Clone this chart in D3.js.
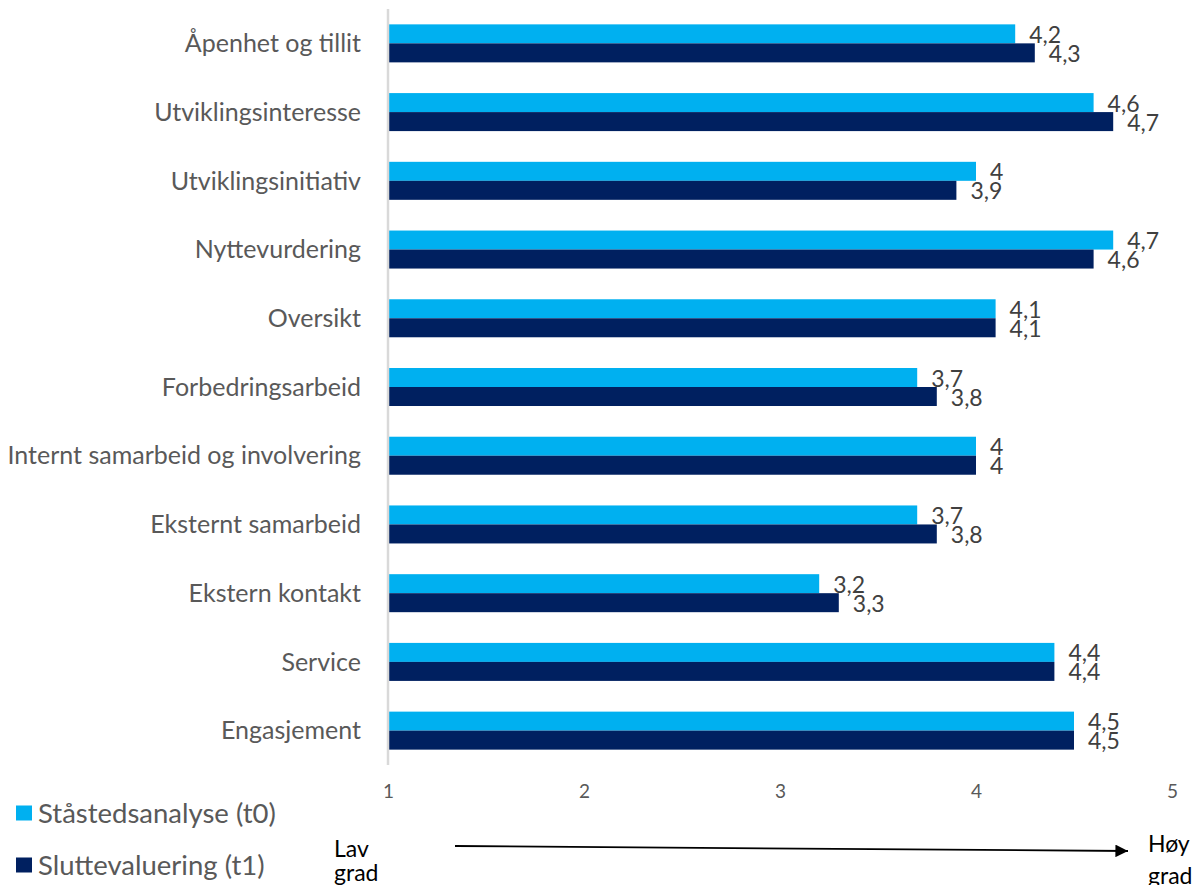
<!DOCTYPE html>
<html>
<head>
<meta charset="utf-8">
<script src="https://cdn.jsdelivr.net/npm/d3@7"></script>
<style>
  html, body { margin: 0; padding: 0; background: #fff; }
  svg { display: block; font-family: Lato, "Open Sans", sans-serif; }
</style>
</head>
<body>
<svg id="chart" width="1201" height="885"></svg>
<script>
// Dimensions scored from 1 (low) to 5 (high)
const categories = [
  "Åpenhet og tillit",
  "Utviklingsinteresse",
  "Utviklingsinitiativ",
  "Nyttevurdering",
  "Oversikt",
  "Forbedringsarbeid",
  "Internt samarbeid og involvering",
  "Eksternt samarbeid",
  "Ekstern kontakt",
  "Service",
  "Engasjement"
];
const seriesNames = ["Ståstedsanalyse (t0)", "Sluttevaluering (t1)"];
const t0Values = [4.2, 4.6, 4.0, 4.7, 4.1, 3.7, 4.0, 3.7, 3.2, 4.4, 4.5];
const t1Values = [4.3, 4.7, 3.9, 4.6, 4.1, 3.8, 4.0, 3.8, 3.3, 4.4, 4.5];
const xTicks = [1, 2, 3, 4, 5];
const colors = ["#00B0F0", "#002060"];

const svg = d3.select("#chart");

const x = d3.scaleLinear().domain([1, 5]).range([388, 1172]);
const y = d3.scaleBand().domain(categories).range([9, 765]).paddingInner(0.447).paddingOuter(0.2235);
const sub = d3.scaleBand().domain([0, 1]).range([0, y.bandwidth()]);

const fmt = v => d3.format(".2~f")(v).replace(".", ",");

const rows = categories.map((c, i) => ({ c, vals: [t0Values[i], t1Values[i]] }));

// Bars
const g = svg.append("g");
const row = g.selectAll("g.row").data(rows).join("g")
  .attr("class", "row")
  .attr("transform", d => `translate(0,${y(d.c)})`);

row.selectAll("rect").data(d => d.vals.map((v, k) => ({ v, k }))).join("rect")
  .attr("x", x(1))
  .attr("y", d => sub(d.k))
  .attr("width", d => x(d.v) - x(1))
  .attr("height", sub.bandwidth())
  .attr("fill", d => colors[d.k]);

// Value labels
row.selectAll("text.val").data(d => d.vals.map((v, k) => ({ v, k }))).join("text")
  .attr("class", "val")
  .attr("x", d => x(d.v) + 14)
  .attr("y", d => sub(d.k) + sub.bandwidth() / 2 + 1)
  .attr("dy", "0.35em")
  .attr("font-size", 23)
  .attr("fill", "#404040")
  .text(d => fmt(d.v));

// Category axis (vertical line at x = 1)
svg.append("line")
  .attr("x1", x(1)).attr("x2", x(1))
  .attr("y1", y.range()[0]).attr("y2", y.range()[1])
  .attr("stroke", "#d9d9d9").attr("stroke-width", 2.5);

svg.append("g").selectAll("text").data(categories).join("text")
  .attr("x", 361)
  .attr("y", d => y(d) + y.bandwidth() / 2)
  .attr("dy", "0.35em")
  .attr("text-anchor", "end")
  .attr("font-size", 25)
  .attr("fill", "#595959")
  .text(d => d);

// Value axis tick labels
const xAxis = svg.append("g")
  .attr("transform", "translate(0,784)")
  .call(d3.axisBottom(x).tickValues(xTicks).tickSize(0).tickPadding(0).tickFormat(d3.format("d")));
xAxis.select(".domain").remove();
xAxis.selectAll("text")
  .attr("font-family", "Lato, 'Open Sans', sans-serif")
  .attr("font-size", 19)
  .attr("fill", "#595959");

// Legend
const legend = svg.append("g");
const legendY = [813, 865];
seriesNames.forEach((name, i) => {
  legend.append("rect")
    .attr("x", 16).attr("y", legendY[i] - 7.5)
    .attr("width", 16).attr("height", 15)
    .attr("fill", colors[i]);
  legend.append("text")
    .attr("x", 38).attr("y", legendY[i])
    .attr("dy", "0.35em")
    .attr("font-size", 27.5)
    .attr("fill", "#595959")
    .text(name);
});

// Low-to-high arrow
svg.append("defs").append("marker")
  .attr("id", "arrowhead")
  .attr("viewBox", "0 0 10 10")
  .attr("refX", 10).attr("refY", 5)
  .attr("markerWidth", 7).attr("markerHeight", 7)
  .attr("orient", "auto")
  .append("path").attr("d", "M0,0 L10,5 L0,10 Z").attr("fill", "#000");

svg.append("line")
  .attr("x1", 455).attr("y1", 846)
  .attr("x2", 1128).attr("y2", 851)
  .attr("stroke", "#000").attr("stroke-width", 1.8)
  .attr("marker-end", "url(#arrowhead)");

const endLabel = (xPos, y0, gap, lines) => {
  const t = svg.append("text").attr("x", xPos).attr("y", y0)
    .attr("font-size", 23).attr("fill", "#000");
  lines.forEach((s, i) => t.append("tspan").attr("x", xPos).attr("dy", i ? gap : 0).text(s));
};
endLabel(334, 857, 24, ["Lav", "grad"]);
endLabel(1148, 852, 32, ["Høy", "grad"]);
</script>
</body>
</html>
